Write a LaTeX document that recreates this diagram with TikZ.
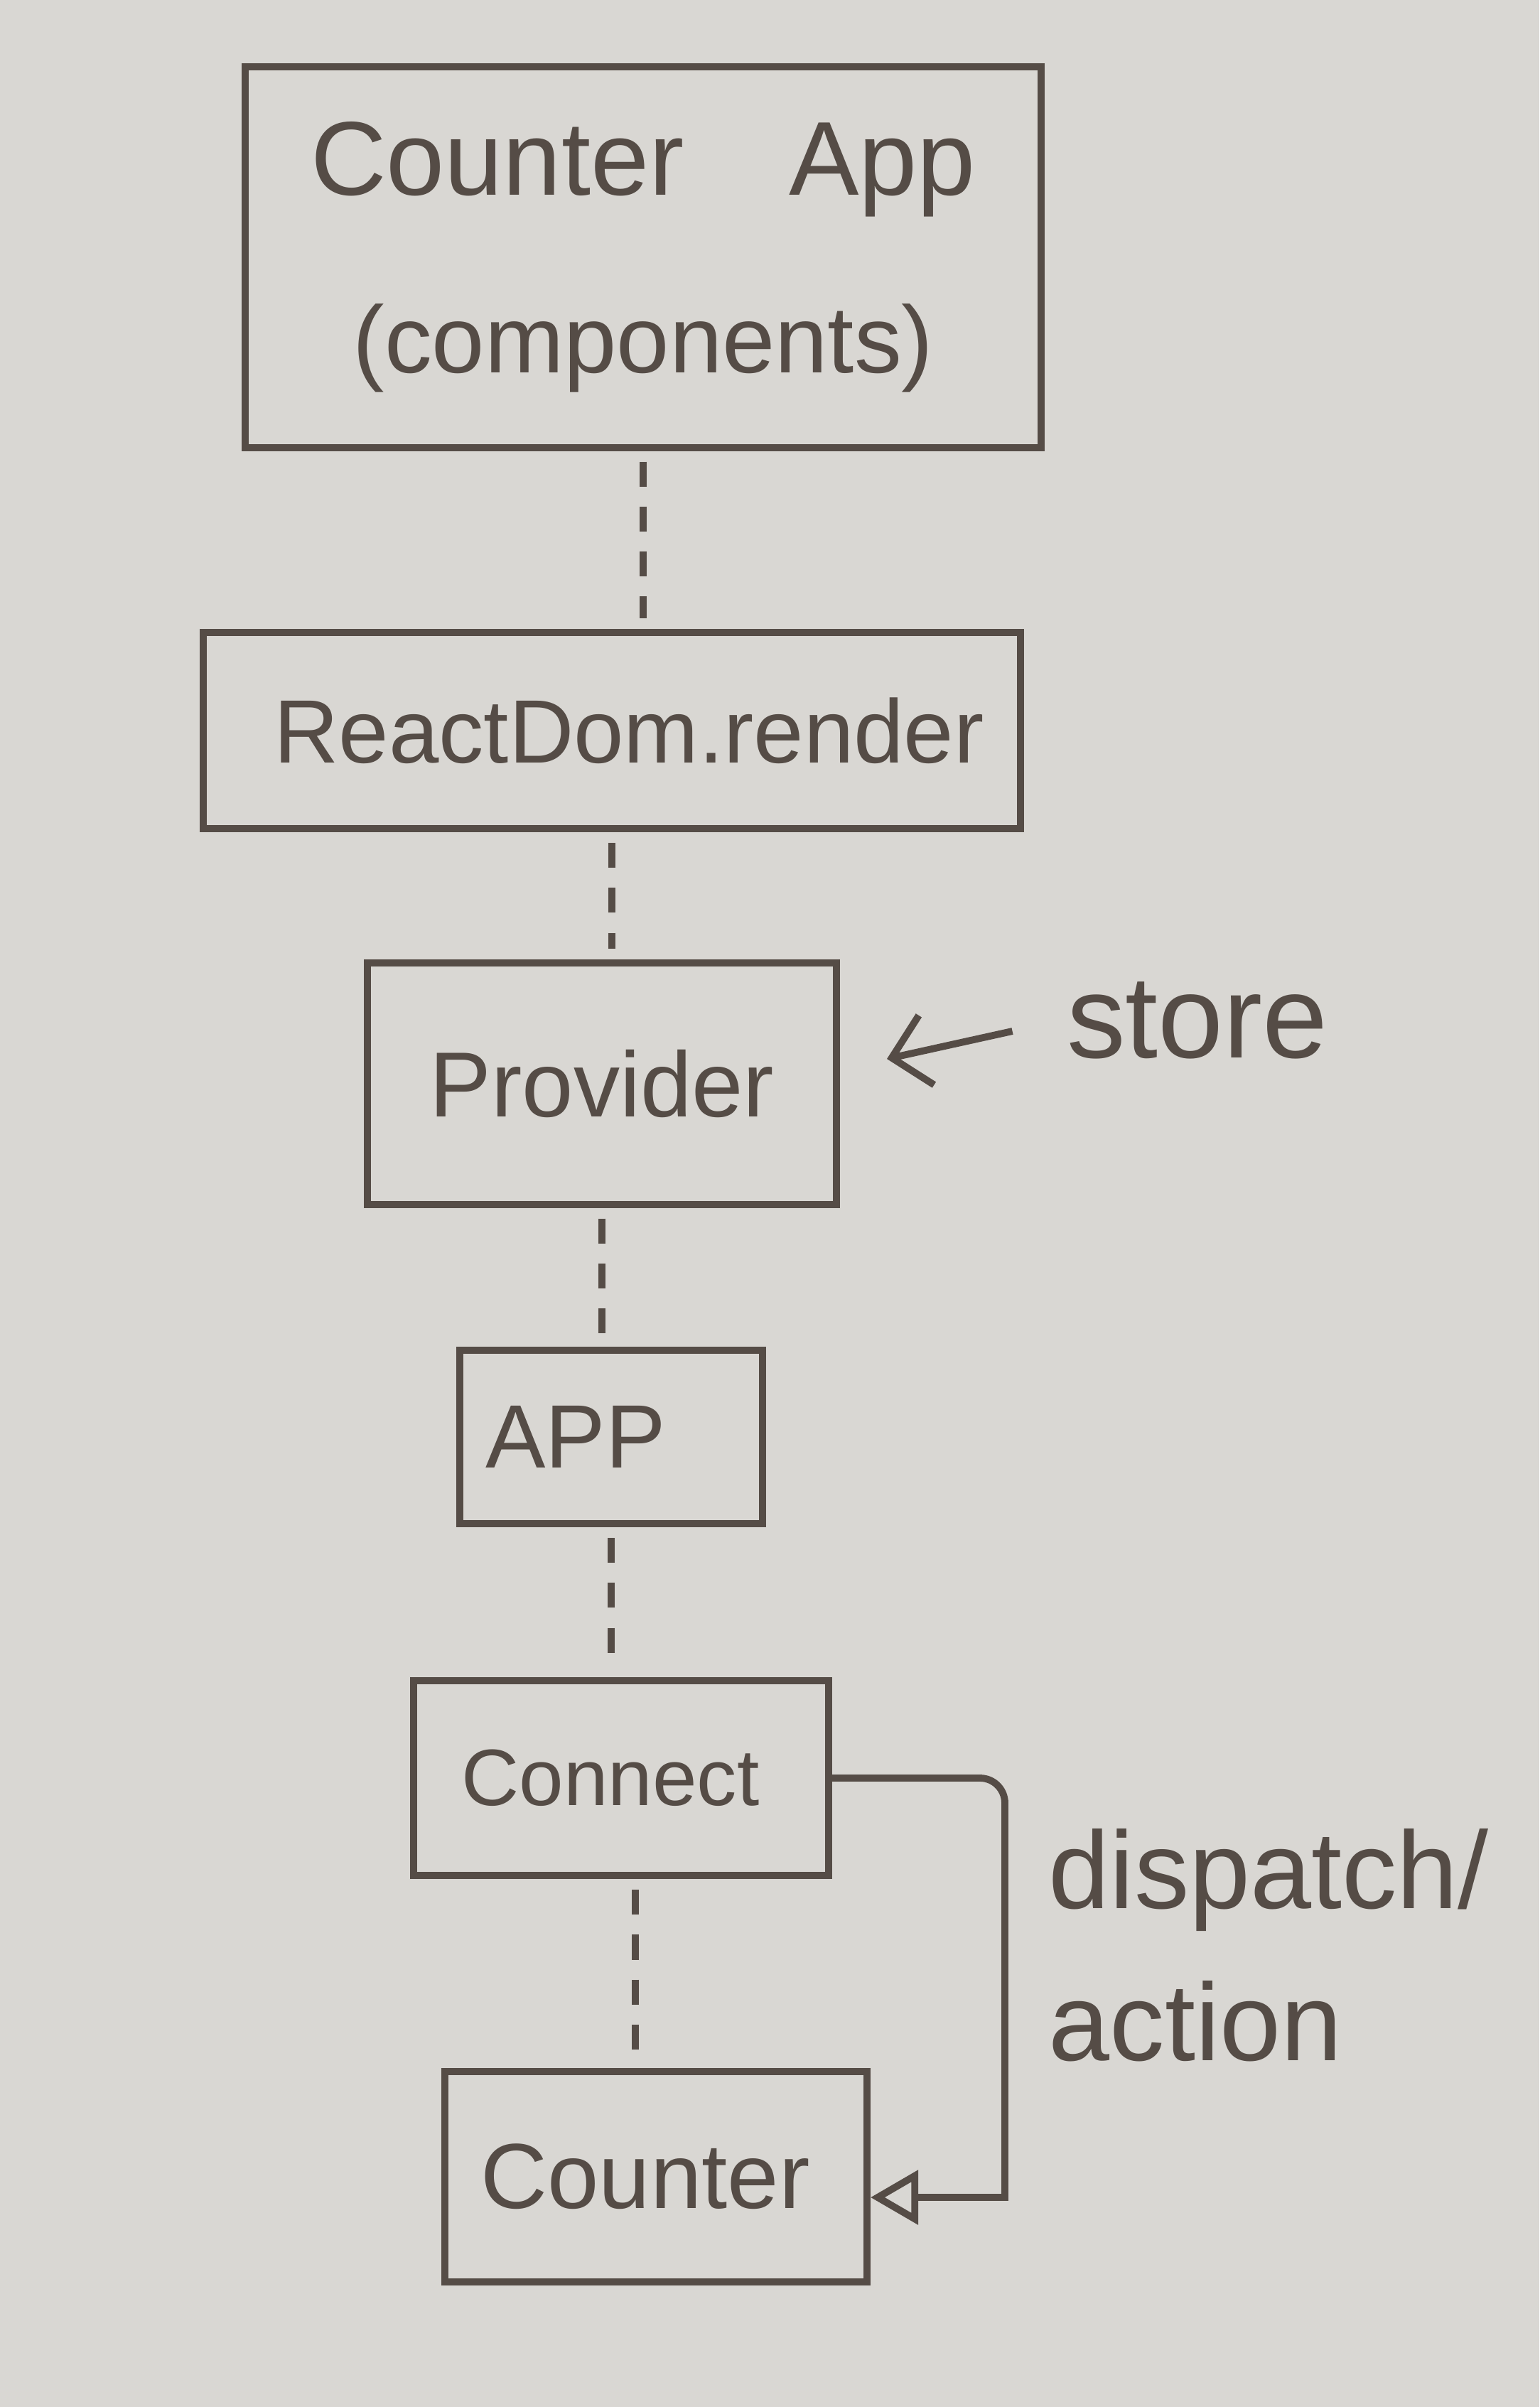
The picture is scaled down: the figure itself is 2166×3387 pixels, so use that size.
\documentclass[tikz,border=0pt]{standalone}
\usepackage{fontspec}
\setmainfont{Liberation Sans}
\usetikzlibrary{arrows.meta,calc}
\definecolor{paper}{HTML}{D9D7D3}
\definecolor{ink}{HTML}{554C46}
\begin{document}
\begin{tikzpicture}[x=0.01cm,y=-0.01cm,
  box/.style={draw=ink, line width=2.8pt, inner sep=0pt, text=ink},
  link/.style={draw=ink, line width=2.6pt, dash pattern=on 10pt off 8pt, shorten <=0.15cm, shorten >=0.15cm},
  lbl/.style={text=ink, inner sep=0pt},
  inkline/.style={draw=ink, line width=2.8pt}]
\fill[paper] (0,0) rectangle (2166,3387);
\useasboundingbox (0,0) rectangle (2166,3387);

\node[box, minimum width=11.19cm, minimum height=5.35cm, align=center,
      font=\fontsize{42}{71}\selectfont] (b1) at (905,362)
      {Counter\hspace{1em}App\\{\fontsize{38}{71}\selectfont (components)}};
\node[box, minimum width=11.49cm, minimum height=2.76cm, font=\fontsize{36}{44}\selectfont] (b2) at (861,1028) {\kern0.48cm ReactDom.render};
\node[box, minimum width=6.59cm, minimum height=3.39cm, font=\fontsize{37}{44}\selectfont] (b3) at (847,1525) {Provider};
\node[box, minimum width=4.25cm, minimum height=2.44cm, font=\fontsize{36}{44}\selectfont] (b4) at (860,2022) {APP\kern1.0cm};
\node[box, minimum width=5.83cm, minimum height=2.74cm, font=\fontsize{32}{40}\selectfont] (b5) at (874,2502) {Connect\kern0.3cm};
\node[box, minimum width=5.94cm, minimum height=2.96cm, font=\fontsize{37}{44}\selectfont] (b6) at (923,3063) {Counter\kern0.3cm};

\draw[link] (b1.south) -- (b1.south |- b2.north);
\draw[link] (b2.south) -- (b2.south |- b3.north);
\draw[link] (b3.south) -- (b3.south |- b4.north);
\draw[link] (b4.south) -- (b4.south |- b5.north);
\draw[link] ([xshift=0.2cm]b5.south) -- ([xshift=0.2cm]b5.south |- b6.north);

\node[lbl, font=\fontsize{47}{50}\selectfont] (storelbl) at (1685,1436) {store};
\coordinate (storetip) at (1248,1490);
\draw[inkline, -{Straight Barb[length=0.5cm,width=1.0cm]}] ([xshift=-0.76cm,yshift=-0.15cm]storelbl.west) -- (storetip);

\node[lbl, align=left, anchor=west, font=\fontsize{44}{61}\selectfont] (dlbl) at (1475,2737) {dispatch/\\action};
\coordinate (loopx) at (1414,2500);
\coordinate (b6dock) at ([yshift=-0.29cm]b6.east);
\draw[inkline, -{Triangle[open, length=0.67cm, width=0.75cm]}]
  (b5.east) [rounded corners=0.35cm] -- (b5.east -| loopx) -- ([yshift=1cm]loopx |- b6dock)
  [sharp corners] -- (loopx |- b6dock) -- (b6dock);
\end{tikzpicture}
\end{document}
